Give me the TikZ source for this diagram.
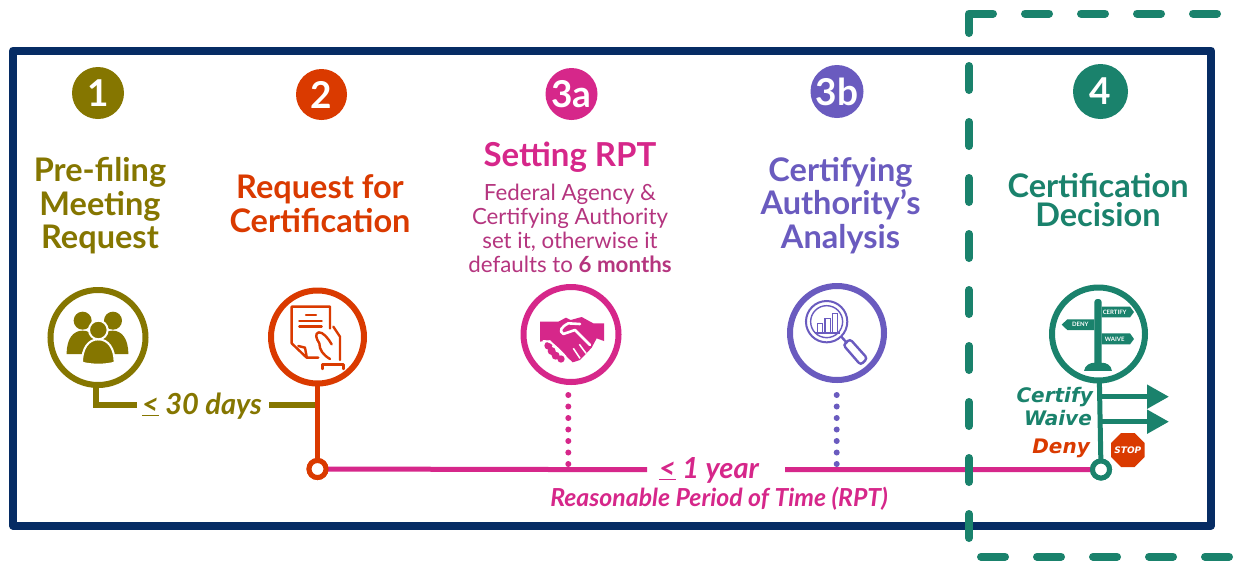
\documentclass[tikz,border=0pt]{standalone}
\usepackage{fontspec}
\setmainfont{Lato}
\newfontfamily\vfont{DejaVu Sans}
\usetikzlibrary{arrows.meta}
\definecolor{cOlive}{HTML}{857600}
\definecolor{cRed}{HTML}{DA3A00}
\definecolor{cPink}{HTML}{D6278A}
\definecolor{cPinkD}{HTML}{B5357F}
\definecolor{cPurple}{HTML}{6A5BBF}
\definecolor{cGreen}{HTML}{1A826C}
\definecolor{cNavy}{HTML}{062C64}
\newcommand{\fsz}[2]{\fontsize{#1}{#2}\selectfont}
\tikzset{
  numdot/.style={circle,inner sep=0pt,outer sep=0pt,text=white,font=\fsz{37}{37}\bfseries},
  bigring/.style={circle,draw,fill=white,line width=6pt,inner sep=0pt,outer sep=0pt,minimum size=95pt},
  smallring/.style={circle,draw,fill=white,line width=5pt,inner sep=0pt,outer sep=0pt,minimum size=17pt},
  heading/.style={anchor=base,align=center,inner sep=0pt,font=\fsz{32.5}{33.5}\bfseries},
  conn/.style={line width=5pt},
  dots/.style={line width=6pt,line cap=round,dash pattern=on 0pt off 11.5pt},
  greendash/.style={draw=cGreen,line width=8pt,line cap=round,line join=round},
  dashrun/.style={greendash,dash pattern=on 24pt off 32pt},
  bigarrow/.style={conn,draw=cGreen,-{Triangle[length=22pt,width=23pt]}},
  iconline/.style={line width=2.4pt,line cap=round,line join=round},
}
\begin{document}
\begin{tikzpicture}[x=1pt,y=-1pt]
\useasboundingbox[fill=white] (0,0) rectangle (1238,560);
% frame
\draw[cNavy,line width=8pt,line join=round] (13,50.5) rectangle (1211,525.5);

% number discs
\node[numdot,fill=cOlive,minimum size=52pt] (n1) at (98,93) {1};
\node[numdot,fill=cRed,minimum size=51pt] (n2) at (321.5,94.5) {2};
\node[numdot,fill=cPink,minimum size=52pt] (n3a) at (571.5,94) {3a};
\node[numdot,fill=cPurple,minimum size=53pt] (n3b) at (837,91.5) {3b};
\node[numdot,fill=cGreen,minimum size=55pt] (n4) at (1100.5,91.5) {4};

% headings (base anchor = last line)
\node[heading,text=cOlive] (h1) at (100,248.5) {Pre-filing\\Meeting\\Request};
\node[heading,text=cRed] (h2) at (320,232) {Request for\\Certification};
\node[heading,text=cPink,font=\fsz{33}{33}\bfseries] (h3a) at (570,166.5) {Setting RPT};
\node[anchor=base,align=center,inner sep=0pt,text=cPinkD,font=\fsz{22.3}{24}] (d3a) at (570,272.5)
  {Federal Agency \&\\Certifying Authority\\set it, otherwise it\\defaults to \textbf{6 months}};
\node[heading,text=cPurple] (h3b) at (840.5,248) {Certifying\\Authority’s\\Analysis};
\node[heading,text=cGreen,font=\fsz{32.5}{29}\bfseries] (h4) at (1098,226.5) {Certification\\Decision};

% timeline connectors
\coordinate (p1) at (95.5,385);
\coordinate (q1) at (137,405);
\coordinate (q2) at (269,405);
\coordinate (q3) at (317.5,405);
\coordinate (t1) at (647,469.7);
\coordinate (t2) at (785,469.7);
\coordinate (da1) at (568.3,395);
\coordinate (da2) at (568.3,464);
\coordinate (db1) at (836.7,395);
\coordinate (db2) at (836.7,464);
\coordinate (a1s) at (1100.7,396.7);
\coordinate (a1e) at (1169,396.7);
\coordinate (a2s) at (1100.7,421.7);
\coordinate (a2e) at (1169,421.7);

\node[smallring,draw=cRed] (s2) at (317.5,469) {};
\node[smallring,draw=cGreen] (s4) at (1101,469.5) {};

\draw[conn,cOlive,line width=6pt] (p1) |- (q1);
\draw[conn,cOlive,line width=6pt] (q2) -- (q3);
\draw[conn,cPink] (s2) -- (t1);
\draw[conn,cPink] (t2) -- (s4);
\draw[dots,cPink] (da1) -- (da2);
\draw[dots,cPurple] (db1) -- (db2);

% big rings
\node[bigring,draw=cOlive] (r1) at (98,337.5) {};
\node[bigring,draw=cRed,minimum size=93pt] (r2) at (317.5,337) {};
\node[bigring,draw=cPink] (r3a) at (571,334.5) {};
\node[bigring,draw=cPurple,minimum size=94pt] (r3b) at (837,333) {};
\node[bigring,draw=cGreen,minimum size=93pt] (r4) at (1098.5,334) {};

\draw[conn,cRed] (r2) -- (s2);
\draw[conn,cGreen] (r4) -- (s4);
\node[smallring,draw=cRed] at (s2) {};
\node[smallring,draw=cGreen] at (s4) {};
\draw[bigarrow] (a1s) -- (a1e);
\draw[bigarrow] (a2s) -- (a2e);

% labels
\node[anchor=base,inner sep=0pt,text=cOlive,font=\fsz{29}{29}\itshape\bfseries] (l30) at (202,414) {\underline{<} 30 days};
\node[anchor=base,inner sep=0pt,text=cPink,font=\fsz{29}{30}\itshape\bfseries] (l1y) at (709,478) {\underline{<} 1 year};
\node[anchor=base,inner sep=0pt,text=cPink,font=\fsz{24.8}{25}\itshape\bfseries] (lrpt) at (719,506) {Reasonable Period of Time (RPT)};
\node[anchor=base east,inner sep=0pt,text=cGreen,font=\vfont\fsz{20}{20}\itshape\bfseries] (lc) at (1093,402.5) {Certify};
\node[anchor=base east,inner sep=0pt,text=cGreen,font=\vfont\fsz{20}{20}\itshape\bfseries] (lw) at (1092,425.5) {Waive};
\node[anchor=base east,inner sep=0pt,text=cRed,font=\vfont\fsz{20}{20}\itshape\bfseries] (ld) at (1090,453.5) {Deny};

% stop sign
\fill[cRed] (1121,433)--(1134.5,433)--(1144.5,443)--(1144.5,457)--(1134.5,467)--(1121,467)--(1111,457)--(1111,443)--cycle;
\node[inner sep=0pt,text=white,font=\vfont\fsz{9}{9}\itshape\bfseries] (stop) at (1127.8,450.5) {STOP};

% people icon
\begin{scope}[shift={(20,280)},x=.3333pt,y=-.3333pt]
  \fill[cOlive] (188,122) circle (27);
  \fill[cOlive] (279,122) circle (27);
  \fill[cOlive] (140,222) .. controls (140,175) and (160,152) .. (188,152) .. controls (215,152) and (235,175) .. (235,222) -- cycle;
  \fill[cOlive] (232,222) .. controls (232,175) and (250,152) .. (278,152) .. controls (305,152) and (325,175) .. (325,222) -- cycle;
  \fill[cOlive,draw=white,line width=2pt] (186,248) .. controls (186,205) and (205,178) .. (235,178) .. controls (265,178) and (284,205) .. (284,248) .. controls (255,256) and (215,256) .. (186,248) -- cycle;
  \fill[cOlive,draw=white,line width=2pt] (235,150) circle (28);
\end{scope}

% document and hand
\begin{scope}[shift={(280,295)},x=.3333pt,y=-.3333pt,cRed]
  \draw[iconline] (150,100) -- (150,35) -- (35,35) -- (35,145) -- (80,188) -- (115,188);
  \draw[iconline] (55,153) -- (75,158) -- (80,185);
  \draw[iconline] (78,60) -- (108,60);
  \draw[iconline] (58,78) -- (125,78);
  \draw[iconline] (58,95) -- (125,95);
  \draw[iconline] (160,95) -- (180,125) -- (180,195);
  \draw[iconline] (155,148) .. controls (145,130) and (128,110) .. (116,112) .. controls (104,116) and (108,130) .. (118,145) .. controls (118,165) and (130,180) .. (150,192);
  \draw[iconline] (127,222) -- (127,208) -- (190,208) -- (190,222);
\end{scope}

% handshake
\begin{scope}[shift={(530,305)},x=.3333pt,y=-.3333pt]
  \fill[cPink] (30,50) -- (85,50) -- (108,38) -- (122,45) -- (155,36) -- (190,55) -- (222,55) -- (222,108) -- (200,100) -- (185,128) -- (172,142) -- (150,165) -- (128,172) -- (95,140) -- (60,105) -- (30,110) -- cycle;
  \fill[cPink] (55,122) circle (12) (65,138) circle (12) (77,152) circle (12) (93,162) circle (11);
  \draw[white,line width=2.6pt,line cap=round,line join=round] (150,57) -- (115,55) .. controls (95,65) and (85,78) .. (100,87) -- (135,75) -- (180,120);
  \draw[white,line width=1.5pt] (38,108) .. controls (60,105) and (80,125) .. (108,155);
  \draw[white,line width=1.5pt] (148,118) -- (168,145);
  \draw[white,line width=1.5pt] (130,130) -- (150,160);
\end{scope}

% magnifier
\begin{scope}[shift={(500,280)},x=.3333pt,y=-.3333pt,cPurple]
  \draw[line width=2pt] (980,125) circle (62);
  \draw[line width=1.4pt] (980,125) circle (48);
  \draw[line width=1.4pt] (952,158) rectangle (968,130);
  \draw[line width=1.4pt] (975,158) rectangle (991,115);
  \draw[line width=1.4pt] (998,158) rectangle (1012,100);
  \draw[line width=2pt] (944,158) -- (1020,158);
  \draw[line width=2.4pt] (1024,170) -- (1042,190);
  \draw[line width=2.4pt,rounded corners=3pt] (1030,195) -- (1050,177) -- (1102,235) -- (1082,255) -- cycle;
\end{scope}

% signpost
\begin{scope}[shift={(960,290)},x=.3333pt,y=-.3333pt]
  \fill[cGreen,rounded corners=3pt] (403,240) -- (403,27) -- (425,27) -- (425,240) -- cycle;
  \fill[cGreen] (372,243) .. controls (375,225) and (390,218) .. (405,218) -- (423,218) .. controls (440,218) and (453,225) .. (456,243) -- cycle;
  \fill[cGreen] (425,50) -- (510,50) -- (522,66) -- (510,82) -- (425,82) -- cycle;
  \fill[cGreen] (425,130) -- (510,130) -- (522,147) -- (510,163) -- (425,163) -- cycle;
  \fill[cGreen] (403,88) -- (322,88) -- (305,104) -- (322,120) -- (403,120) -- cycle;
  \node[inner sep=0pt,text=white,font=\fsz{6}{6}\bfseries] (sc) at (464,66) {CERTIFY};
  \node[inner sep=0pt,text=white,font=\fsz{6}{6}\bfseries] (sw) at (464,147) {WAIVE};
  \node[inner sep=0pt,text=white,font=\fsz{6}{6}\bfseries] (sd) at (361,104) {DENY};
\end{scope}

% dashed green bracket
\coordinate (g0) at (993,13.5);
\coordinate (g1) at (969,13.5);
\coordinate (g2) at (969,33);
\coordinate (g3) at (1025,13.5);
\coordinate (g4) at (1225,13.5);
\coordinate (g5) at (969,66);
\coordinate (g6) at (969,540);
\coordinate (g7) at (981,556.7);
\coordinate (g8) at (1238,556.7);
\draw[greendash] (g0) -- (g1) -- (g2);
\draw[dashrun] (g3) -- (g4);
\draw[dashrun] (g5) -- (g6);
\draw[dashrun] (g7) -- (g8);
\end{tikzpicture}
\end{document}
